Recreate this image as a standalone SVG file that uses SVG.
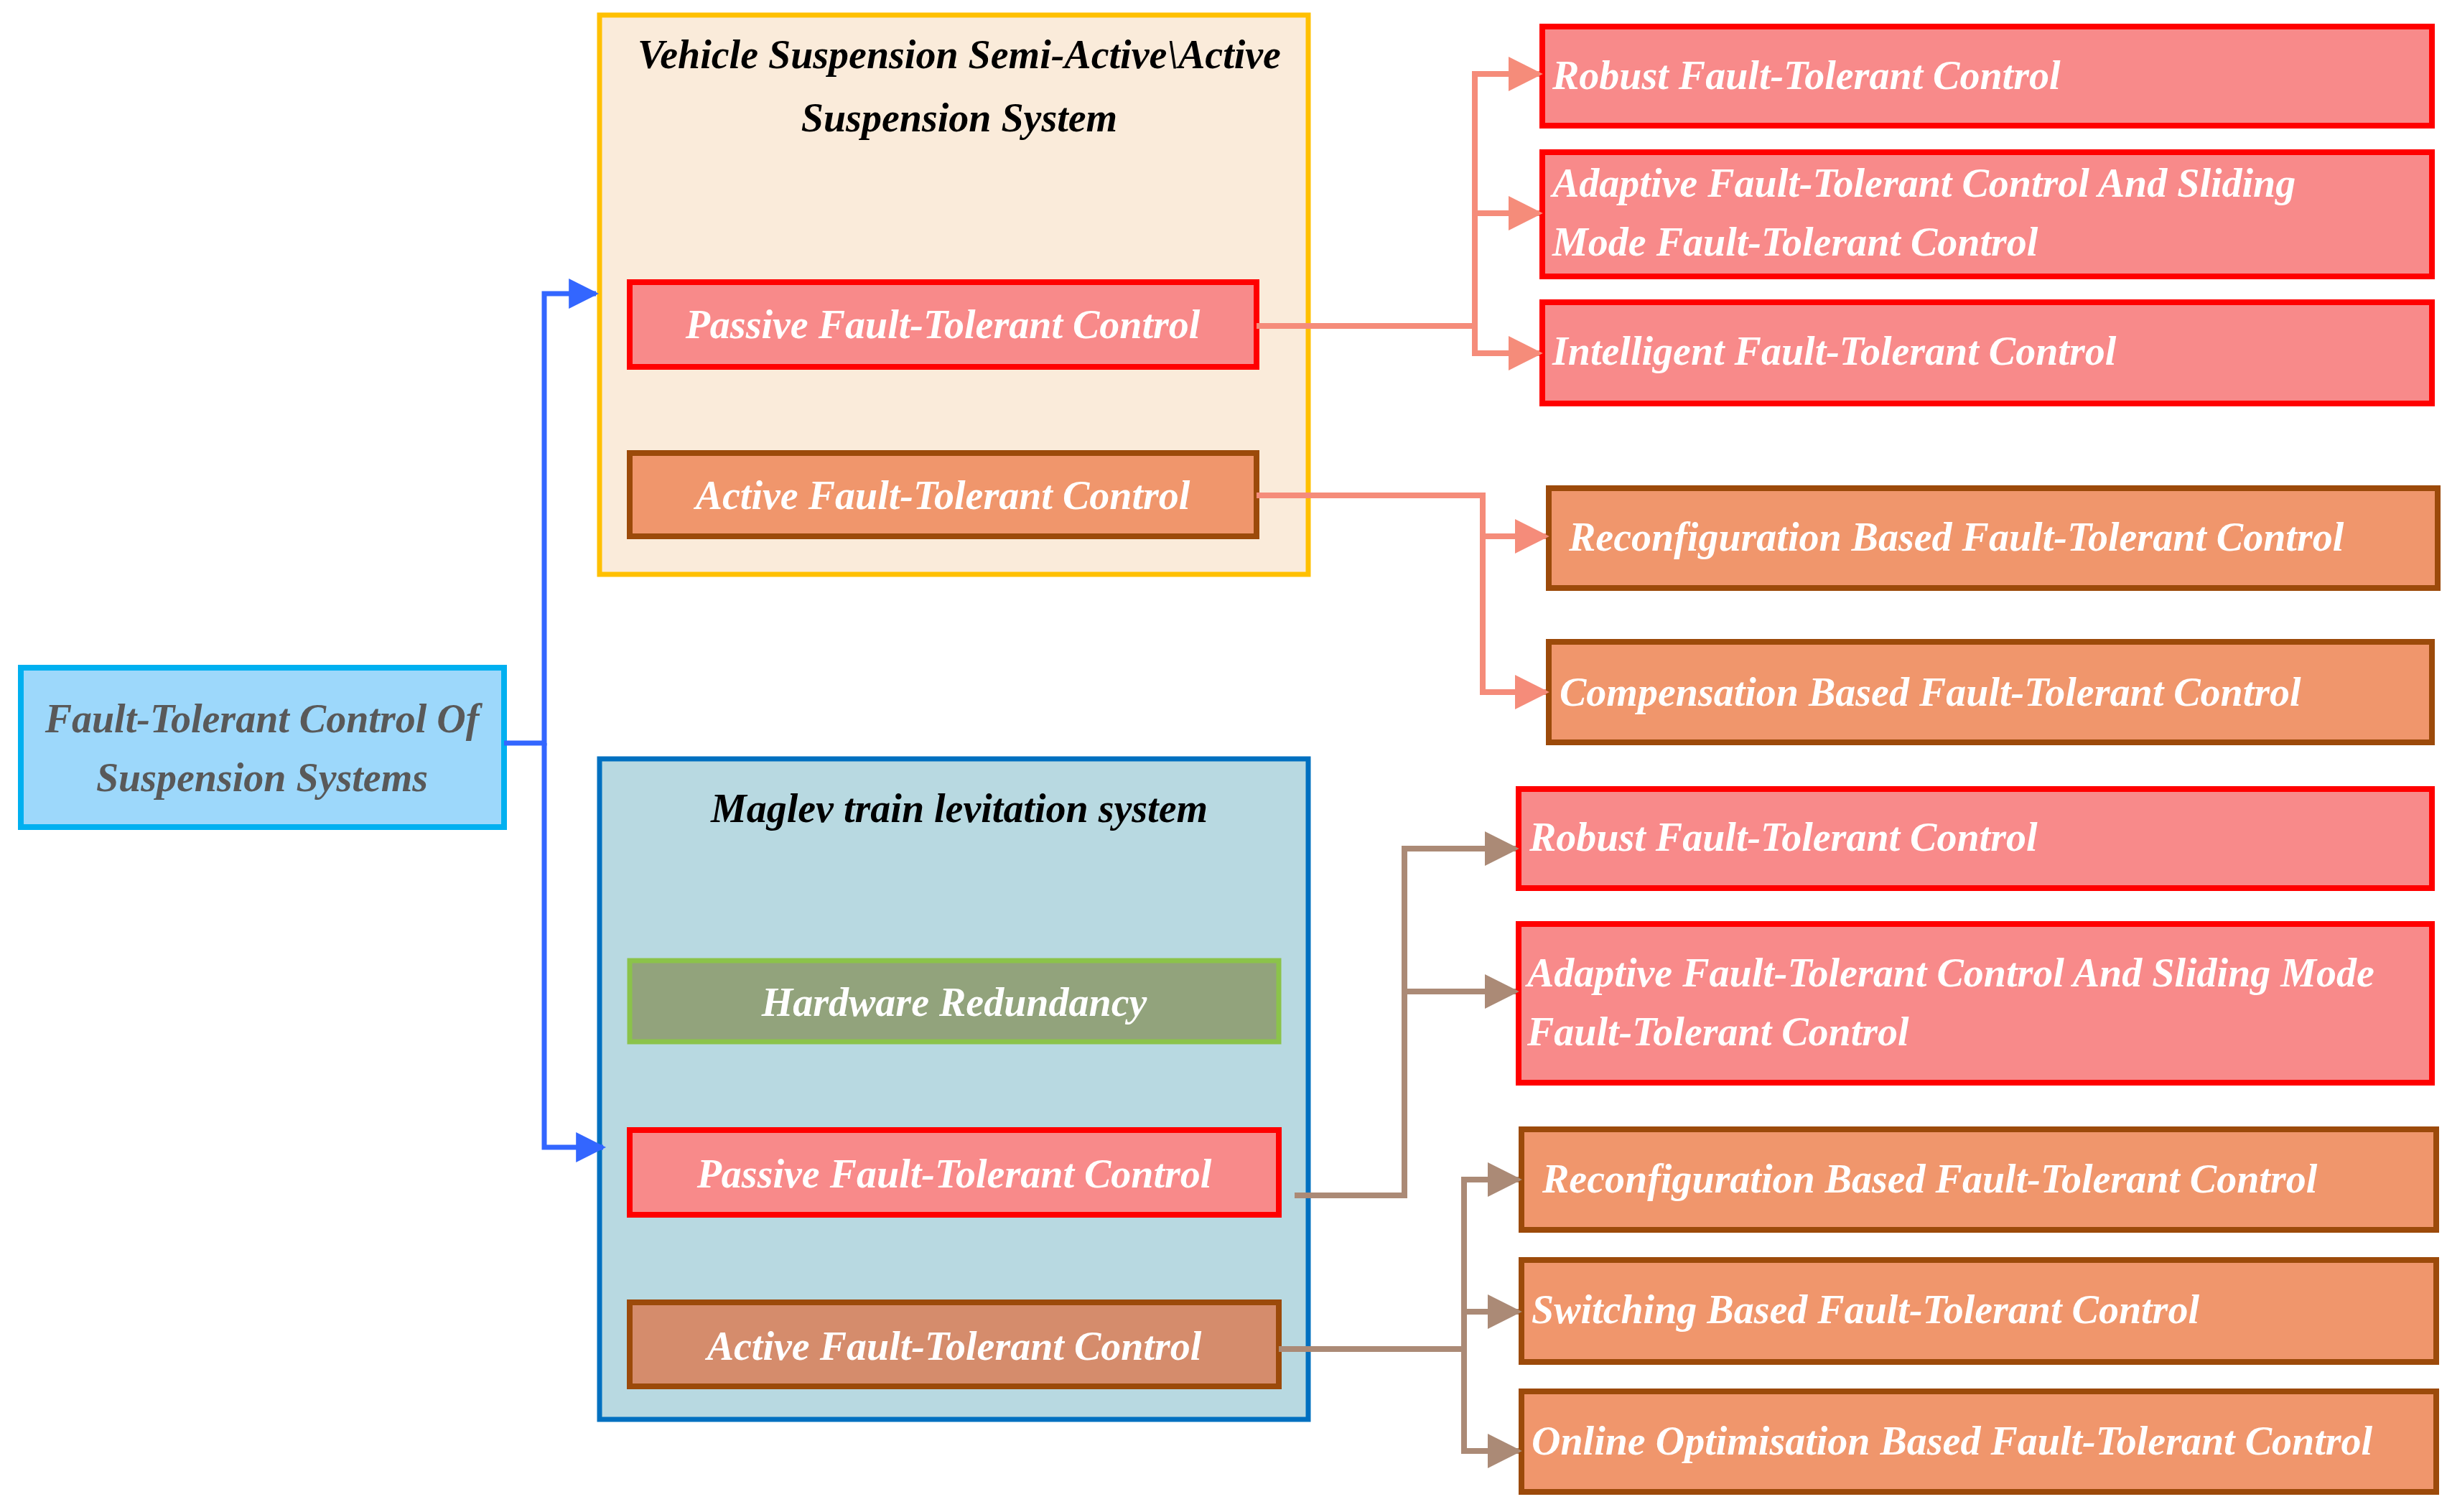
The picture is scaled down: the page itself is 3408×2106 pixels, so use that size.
<svg xmlns="http://www.w3.org/2000/svg" width="3408" height="2106" viewBox="0 0 3408 2106">
<style>
text{font-family:"Liberation Serif","Times New Roman",serif;font-style:italic;font-weight:bold;font-size:56px;fill:#fff}
.c{text-anchor:middle}
.p{fill:#F88A8A;stroke:#FF0000;stroke-width:8}
.a{fill:#F0966C;stroke:#9C4A0A;stroke-width:8}
.a2{fill:#D58C6C;stroke:#9C4A0A;stroke-width:8}
.s{fill:none;stroke:#F58C7A;stroke-width:8}
.b{fill:none;stroke:#AB8A76;stroke-width:8}
.u{fill:none;stroke:#3366FF;stroke-width:7}
</style>
<defs>
<marker id="ms" viewBox="0 0 10 10" refX="9" refY="5" markerWidth="6" markerHeight="6" markerUnits="strokeWidth" orient="auto"><path d="M0,0L10,5L0,10z" fill="#F58C7A"/></marker>
<marker id="mb" viewBox="0 0 10 10" refX="9" refY="5" markerWidth="6" markerHeight="6" markerUnits="strokeWidth" orient="auto"><path d="M0,0L10,5L0,10z" fill="#AB8A76"/></marker>
<marker id="mu" viewBox="0 0 10 10" refX="9" refY="5" markerWidth="6" markerHeight="6" markerUnits="strokeWidth" orient="auto"><path d="M0,0L10,5L0,10z" fill="#3366FF"/></marker>
</defs>
<g id="vehicle"><rect x="835" y="21" width="987" height="779" fill="#FAEBDA" stroke="#FFC000" stroke-width="7"/>
<text class="c" x="1336" y="95" style="fill:#000">Vehicle Suspension Semi-Active\Active</text>
<text class="c" x="1336" y="183" style="fill:#000">Suspension System</text></g>
<g id="maglev"><rect x="835" y="1057" width="987" height="920" fill="#B8D9E1" stroke="#0070C0" stroke-width="7"/>
<text class="c" x="1336" y="1145" style="fill:#000">Maglev train levitation system</text></g>
<g id="root"><rect x="29" y="930" width="673" height="222" fill="#9DD8FB" stroke="#00B0F0" stroke-width="8"/>
<text class="c" x="365" y="1020" style="fill:#595959">Fault-Tolerant Control Of</text>
<text class="c" x="365" y="1102" style="fill:#595959">Suspension Systems</text></g>
<g id="vpassive"><rect class="p" x="877" y="393" width="873" height="118"/><text class="c" x="1313" y="471">Passive Fault-Tolerant Control</text></g>
<g id="vactive"><rect class="a" x="877" y="631" width="873" height="116"/><text class="c" x="1313" y="709">Active Fault-Tolerant Control</text></g>
<g id="hw"><rect x="877" y="1338" width="904" height="113" fill="#92A37C" stroke="#8BC34A" stroke-width="7"/><text class="c" x="1329" y="1415">Hardware Redundancy</text></g>
<g id="mpassive"><rect class="p" x="877" y="1574" width="904" height="118"/><text class="c" x="1329" y="1654">Passive Fault-Tolerant Control</text></g>
<g id="mactive"><rect class="a2" x="877" y="1814" width="904" height="117"/><text class="c" x="1329" y="1894">Active Fault-Tolerant Control</text></g>
<g id="r1"><rect class="p" x="2148" y="37" width="1239" height="138"/><text x="2162" y="124">Robust Fault-Tolerant Control</text></g>
<g id="r2"><rect class="p" x="2148" y="212" width="1239" height="173"/><text x="2162" y="274">Adaptive Fault-Tolerant Control And Sliding</text><text x="2162" y="356">Mode Fault-Tolerant Control</text></g>
<g id="r3"><rect class="p" x="2148" y="421" width="1239" height="141"/><text x="2162" y="508">Intelligent Fault-Tolerant Control</text></g>
<g id="r4"><rect class="a" x="2157" y="680" width="1238" height="139"/><text x="2185" y="767">Reconfiguration Based Fault-Tolerant Control</text></g>
<g id="r5"><rect class="a" x="2157" y="894" width="1230" height="140"/><text x="2172" y="983">Compensation Based Fault-Tolerant Control</text></g>
<g id="r6"><rect class="p" x="2115" y="1099" width="1272" height="138"/><text x="2130" y="1185">Robust Fault-Tolerant Control</text></g>
<g id="r7"><rect class="p" x="2115" y="1287" width="1272" height="221"/><text x="2127" y="1374">Adaptive Fault-Tolerant Control And Sliding Mode</text><text x="2127" y="1456">Fault-Tolerant Control</text></g>
<g id="r8"><rect class="a" x="2119" y="1573" width="1274" height="140"/><text x="2148" y="1661">Reconfiguration Based Fault-Tolerant Control</text></g>
<g id="r9"><rect class="a" x="2119" y="1755" width="1274" height="142"/><text x="2133" y="1843">Switching Based Fault-Tolerant Control</text></g>
<g id="r10"><rect class="a" x="2119" y="1938" width="1274" height="140"/><text x="2133" y="2026">Online Optimisation Based Fault-Tolerant Control</text></g>
<g id="connectors">
<path class="u" d="M702,1035H758V409H830" marker-end="url(#mu)"/>
<path class="u" d="M758,1035V1598H840" marker-end="url(#mu)"/>
<path class="s" d="M1750,454H2054V103H2144" marker-end="url(#ms)"/>
<path class="s" d="M2054,297H2144" marker-end="url(#ms)"/>
<path class="s" d="M2054,454V492H2144" marker-end="url(#ms)"/>
<path class="s" d="M1750,690H2065V747H2153" marker-end="url(#ms)"/>
<path class="s" d="M2065,747V964H2153" marker-end="url(#ms)"/>
<path class="b" d="M1803,1665H1956V1182H2111" marker-end="url(#mb)"/>
<path class="b" d="M1956,1381H2111" marker-end="url(#mb)"/>
<path class="b" d="M1781,1879H2039V1643H2115" marker-end="url(#mb)"/>
<path class="b" d="M2039,1827H2115" marker-end="url(#mb)"/>
<path class="b" d="M2039,1879V2021H2115" marker-end="url(#mb)"/>
</g>
</svg>
